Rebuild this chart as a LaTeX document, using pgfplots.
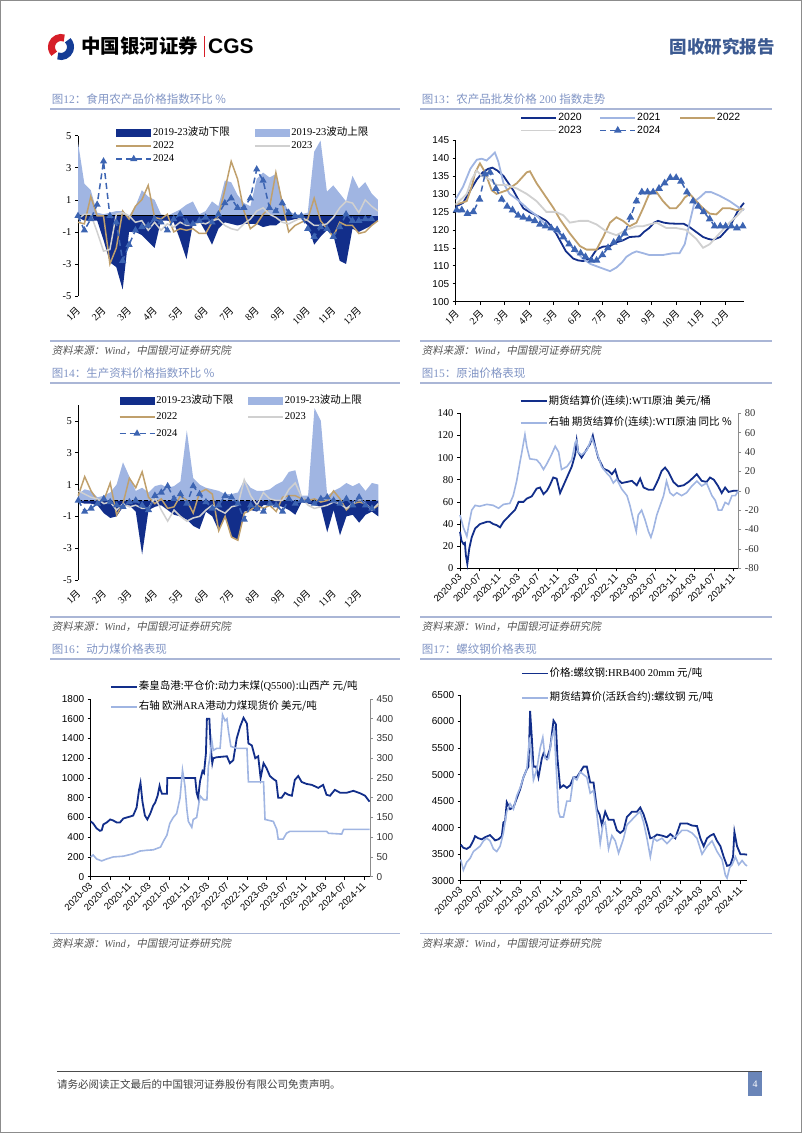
\documentclass[border=0pt]{standalone}
\usepackage{fontspec}
\usepackage{pgfplots}
\pgfplotsset{compat=1.18}
\setmainfont{Noto Sans CJK SC}
\newfontfamily\lsans{Liberation Sans}
\newfontfamily\lserif{Liberation Serif}
\newfontfamily\cjkit[FakeSlant=0.2]{Noto Sans CJK SC}

\definecolor{navy}{RGB}{18,46,138}
\definecolor{lblue}{RGB}{160,181,226}
\definecolor{tan}{RGB}{192,160,108}
\definecolor{lgrey}{RGB}{208,208,208}
\definecolor{mblue}{RGB}{60,100,178}
\definecolor{ttl}{RGB}{128,148,196}
\definecolor{rulec}{RGB}{170,182,214}
\definecolor{hdr}{RGB}{60,90,145}
\definecolor{pagebox}{RGB}{106,133,184}
\definecolor{logored}{RGB}{214,30,40}
\definecolor{logoblue}{RGB}{20,60,150}
\definecolor{srcc}{RGB}{85,85,85}

\pgfplotsset{
 every axis/.append style={scale only axis, enlargelimits=false, clip=false,
   axis line style={line width=0.7pt, black},
   x axis line style={-}, y axis line style={-},
   tick style={line width=0.6pt, black}, major tick length=3pt, tick align=outside,
   /pgf/number format/assume math mode=true, /pgf/number format/1000 sep={},
   legend cell align=left,
   legend style={draw=none, fill=none, inner sep=0pt, outer sep=0pt, column sep=0pt,
     nodes={inner sep=1pt, text height=8pt, text depth=2.5pt, font=\fontsize{10.5}{12}\selectfont}},
 },
 area35/.style={legend image code/.code={\fill[##1] (0pt,-4pt) rectangle (35pt,4pt);}},
 line35/.style={legend image code/.code={\draw[mark repeat=2,mark phase=2,##1] plot coordinates {(0pt,0pt) (17.5pt,0pt) (35pt,0pt)};}},
 line26/.style={legend image code/.code={\draw[##1] (0pt,0pt) -- (26pt,0pt);}},
 monthticks/.style={xtick={0,4,...,44}, xticklabels={{\lserif 1}月,{\lserif 2}月,{\lserif 3}月,{\lserif 4}月,{\lserif 5}月,{\lserif 6}月,{\lserif 7}月,{\lserif 8}月,{\lserif 9}月,{\lserif 10}月,{\lserif 11}月,{\lserif 12}月}},
 dateticks/.style={xtick={0,4,...,56}, xticklabels={2020-03,2020-07,2020-11,2021-03,2021-07,2021-11,2022-03,2022-07,2022-11,2023-03,2023-07,2023-11,2024-03,2024-07,2024-11},
   xticklabel style={font=\lsans\fontsize{9.5}{11}\selectfont, xshift=2.5pt, yshift=-2pt, rotate=45, anchor=east}},
}

\begin{document}
\begin{tikzpicture}
\useasboundingbox (0,0) rectangle (802pt,-1133pt);
\draw[black!45, line width=1pt] (0.5pt,-0.5pt) rectangle (801.5pt,-1132.5pt);

% ---------- header ----------
\draw[logored, line width=7pt] (61pt,-47pt) ++(70:9.5pt) arc (70:225:9.5pt);
\draw[logoblue, line width=7pt] (61pt,-47pt) ++(250:9.5pt) arc (250:405:9.5pt);
\node[anchor=west, inner sep=0pt, font=\bfseries\fontsize{19.5}{22}\selectfont] at (81pt,-46pt) {中国银河证券};
\fill[logored] (203.5pt,-36pt) rectangle (205pt,-57pt);
\node[anchor=west, inner sep=0pt, font=\lsans\bfseries\fontsize{21}{24}\selectfont] at (208pt,-46.5pt) {CGS};
\node[anchor=east, inner sep=0pt, text=hdr, font=\bfseries\fontsize{17.5}{20}\selectfont] at (775pt,-47pt) {固收研究报告};

% ---------- titles, rules, sources ----------
\foreach \xa/\xb/\xt in {50/400/51.7, 420/772/421.7}{
  \draw[rulec, line width=1.6pt] (\xa pt,-109pt) -- (\xb pt,-109pt);
  \draw[rulec, line width=1.6pt] (\xa pt,-341pt) -- (\xb pt,-341pt);
  \draw[rulec, line width=1.6pt] (\xa pt,-383pt) -- (\xb pt,-383pt);
  \draw[rulec, line width=1.6pt] (\xa pt,-616.7pt) -- (\xb pt,-616.7pt);
  \draw[rulec, line width=1.6pt] (\xa pt,-659pt) -- (\xb pt,-659pt);
  \draw[rulec, line width=1.6pt] (\xa pt,-933.3pt) -- (\xb pt,-933.3pt);
  \node[anchor=west, inner sep=0pt, text=srcc, font=\cjkit\fontsize{10.5}{12}\selectfont] at (\xt pt,-351pt) {资料来源：{\lserif\itshape Wind}，中国银河证券研究院};
  \node[anchor=west, inner sep=0pt, text=srcc, font=\cjkit\fontsize{10.5}{12}\selectfont] at (\xt pt,-626.7pt) {资料来源：{\lserif\itshape Wind}，中国银河证券研究院};
  \node[anchor=west, inner sep=0pt, text=srcc, font=\cjkit\fontsize{10.5}{12}\selectfont] at (\xt pt,-944pt) {资料来源：{\lserif\itshape Wind}，中国银河证券研究院};
}
\begin{scope}[every node/.style={anchor=west, inner sep=0pt, text=ttl, font=\fontsize{11.5}{13}\selectfont}]
\node at (51.7pt,-99pt) {图{\lserif 12}：食用农产品价格指数环比 \%};
\node at (421.7pt,-99pt) {图{\lserif 13}：农产品批发价格 {\lserif 200} 指数走势};
\node at (51.7pt,-372.7pt) {图{\lserif 14}：生产资料价格指数环比 \%};
\node at (421.7pt,-372.7pt) {图{\lserif 15}：原油价格表现};
\node at (51.7pt,-649.3pt) {图{\lserif 16}：动力煤价格表现};
\node at (421.7pt,-649.3pt) {图{\lserif 17}：螺纹钢价格表现};
\end{scope}

% ---------- footer ----------
\draw[black!70, line width=1pt] (57pt,-1071pt) -- (762pt,-1071pt);
\node[anchor=west, inner sep=0pt, text=black!75, font=\fontsize{10.5}{12}\selectfont] at (57pt,-1084pt) {请务必阅读正文最后的中国银河证券股份有限公司免责声明。};
\fill[pagebox] (748pt,-1072pt) rectangle (762pt,-1096pt);
\node[text=white, inner sep=0pt, font=\lserif\fontsize{10}{12}\selectfont] at (755pt,-1084pt) {4};

% =================== Chart 12 ===================
\begin{axis}[at={(78pt,-296pt)}, anchor=south west, width=300pt, height=160.3pt,
  xmin=0, xmax=47, ymin=-5, ymax=5,
  axis y line*=left, axis x line*=bottom, x axis line style={draw=none},
  monthticks, xtick style={draw=none},
  ytick={-5,-3,...,5},
  yticklabel style={font=\lserif\fontsize{10.5}{12}\selectfont},
  xticklabel style={font=\fontsize{10}{12}\selectfont, xshift=3pt, yshift=-7pt, rotate=45, anchor=east},
  legend columns=2, legend style={at={(0.125,1.056)}, anchor=north west, row sep=0.5pt}]
\addplot[draw=none, fill=navy, area35] coordinates {(0,0) (0,-0.1) (1,-0.3) (2,-0.3) (3,-0.3) (4,-1.5) (5,-2.9) (6,-3.2) (7,-4.6) (8,-1.0) (9,-1.0) (10,-1.2) (11,-1.6) (12,-2.0) (13,-0.3) (14,-0.3) (15,-0.4) (16,-1.5) (17,-2.7) (18,-0.5) (19,-0.3) (20,-1.0) (21,-1.8) (22,-0.8) (23,-0.4) (24,-0.5) (25,-0.6) (26,-0.5) (27,-0.5) (28,-0.5) (29,-0.7) (30,-0.6) (31,-0.6) (32,-0.3) (33,-0.3) (34,-0.2) (35,-0.2) (36,-0.6) (37,-1.8) (38,-1.3) (39,-0.9) (40,-1.2) (41,-2.8) (42,-3.0) (43,-0.8) (44,-1.0) (45,-0.8) (46,-0.6) (47,-0.3) (47,0)};
\addlegendentry{\makebox[100pt][l]{{\lserif 2019-23}波动下限}}
\addplot[draw=none, fill=lblue, area35] coordinates {(0,0) (0,4.6) (1,2.0) (2,1.6) (3,0.2) (4,0.1) (5,0.2) (6,0.3) (7,0.3) (8,0.0) (9,0.6) (10,1.6) (11,1.2) (12,1.0) (13,0.1) (14,0.0) (15,0.2) (16,0.4) (17,0.7) (18,0.9) (19,0.1) (20,0.3) (21,0.9) (22,0.6) (23,2.2) (24,2.1) (25,1.3) (26,0.8) (27,0.6) (28,2.3) (29,2.7) (30,2.4) (31,2.6) (32,1.0) (33,0.3) (34,0.1) (35,0.1) (36,0.2) (37,4.0) (38,4.7) (39,1.5) (40,1.9) (41,1.4) (42,0.9) (43,2.5) (44,1.7) (45,2.1) (46,1.4) (47,1.0) (47,0)};
\addlegendentry{{\lserif 2019-23}波动上限}
\addplot[forget plot, black, line width=0.9pt] coordinates {(0,0) (46,0)};
\addplot[tan, line width=1.5pt, line35] coordinates {(0,-0.4) (1,-0.5) (2,1.2) (3,0.0) (4,0.0) (5,-3.0) (6,-2.0) (7,0.3) (8,-0.2) (9,0.6) (10,1.0) (11,1.9) (12,-0.1) (13,-0.2) (14,0.1) (15,-1.0) (16,-0.8) (17,-0.9) (18,-0.8) (19,-1.1) (20,-1.1) (21,-0.4) (22,0.0) (23,1.6) (24,3.4) (25,2.3) (26,0.3) (27,-0.8) (28,-0.5) (29,0.1) (30,0.5) (31,2.7) (32,0.8) (33,-1.0) (34,-0.6) (35,-0.4) (36,-0.2) (37,1.1) (38,-0.3) (39,-0.8) (40,-1.3) (41,-0.4) (42,-0.6) (43,-0.6) (44,-1.1) (45,-1.0) (46,-0.6) (47,-0.3)};
\addlegendentry{\makebox[100pt][l]{\lserif 2022}}
\addplot[lgrey, line width=1.5pt, line35] coordinates {(0,-0.2) (1,0.1) (2,0.1) (3,-1.0) (4,-2.2) (5,-2.1) (6,0.1) (7,0.2) (8,0.0) (9,-0.4) (10,-0.3) (11,-0.9) (12,-0.4) (13,-0.9) (14,-0.5) (15,-0.7) (16,-0.4) (17,-0.6) (18,-0.6) (19,-0.4) (20,-0.5) (21,-0.3) (22,-0.2) (23,-0.6) (24,-0.8) (25,-0.9) (26,-0.5) (27,-0.2) (28,0.3) (29,0.5) (30,0.1) (31,-0.1) (32,-0.4) (33,-0.5) (34,-0.3) (35,-0.1) (36,-0.3) (37,-0.6) (38,-0.6) (39,-0.5) (40,-0.1) (41,0.5) (42,0.9) (43,0.8) (44,0.2) (45,1.0) (46,0.6) (47,0.3)};
\addlegendentry{\lserif 2023}
\addplot[mblue, line width=1.5pt, dash pattern=on 6pt off 4pt, mark=triangle*, mark size=2.7pt, mark options={solid, fill=mblue}, line35] coordinates {(0,0.0) (1,-0.9) (2,-0.2) (3,0.7) (4,3.4) (5,0.0) (6,-0.4) (7,-2.8) (8,-1.8) (9,-0.9) (10,-0.7) (11,-0.6) (12,-0.2) (13,-0.4) (14,-0.9) (15,-0.2) (16,0.1) (17,-0.4) (18,-0.5) (19,-0.3) (20,-0.1) (21,-0.4) (22,0.1) (23,0.8) (24,1.1) (25,0.5) (26,0.5) (27,1.1) (28,2.9) (29,2.2) (30,0.5) (31,0.3) (32,0.8) (33,0.2) (34,0.0) (35,0.0) (36,-0.8) (37,-1.3) (38,-0.7) (39,-0.8) (40,-1.3) (41,-0.7) (42,0.1) (43,-0.3) (44,-0.3) (45,-0.2) (46,-0.2)};
\addlegendentry{\lserif 2024}
\end{axis}

% =================== Chart 13 ===================
\begin{axis}[at={(455.7pt,-301.7pt)}, anchor=south west, width=288.3pt, height=161.7pt,
  xmin=0, xmax=11.77, ymin=100, ymax=145,
  axis y line*=left, axis x line*=bottom,
  xtick={0,...,11}, xticklabels={{\lserif 1}月,{\lserif 2}月,{\lserif 3}月,{\lserif 4}月,{\lserif 5}月,{\lserif 6}月,{\lserif 7}月,{\lserif 8}月,{\lserif 9}月,{\lserif 10}月,{\lserif 11}月,{\lserif 12}月},
  ytick={100,105,...,145},
  yticklabel style={font=\lsans\fontsize{10}{12}\selectfont},
  xticklabel style={font=\fontsize{10}{12}\selectfont, xshift=4pt, yshift=-5pt, rotate=45, anchor=east},
  legend columns=3, legend style={at={(0.225,1.175)}, anchor=north west, row sep=0pt}]
\addplot[navy, line width=1.8pt, line35] coordinates {(0,126.5) (0.3,127.5) (0.6,131) (0.86,134) (1.1,136) (1.33,137) (1.5,137.3) (1.7,136.5) (1.95,135) (2.15,133) (2.35,131) (2.55,128.5) (2.76,126) (3.0,125) (3.3,124) (3.5,123.3) (3.7,122.5) (3.9,121) (4.1,119) (4.3,116.5) (4.5,114) (4.8,112) (5.0,111.5) (5.2,111.3) (5.5,112) (5.75,114.5) (6.0,115.3) (6.3,115.5) (6.55,116.5) (6.8,117) (7.1,118) (7.5,118.2) (7.7,119.5) (7.9,120.5) (8.1,122) (8.26,122.5) (8.5,122) (8.7,121.8) (9.0,121.7) (9.3,121.7) (9.5,121) (9.7,120) (9.9,119) (10.1,118) (10.3,117.5) (10.5,117.2) (10.8,118) (11.0,119.5) (11.2,121) (11.35,123) (11.5,125) (11.65,126.5) (11.77,127.5)};
\addlegendentry{\makebox[40pt][l]{\lsans 2020}}
\addplot[lblue, line width=1.8pt, line35] coordinates {(0,128.5) (0.3,132) (0.6,137) (0.86,139.5) (1.06,139.8) (1.26,139.3) (1.45,140.5) (1.6,141.5) (1.74,139) (1.95,133) (2.2,130) (2.5,128.5) (2.76,127) (3.0,125.5) (3.3,124) (3.6,122) (3.85,120.5) (4.1,119.5) (4.4,118) (4.65,116) (4.9,114) (5.2,112) (5.5,110.5) (5.9,109.5) (6.3,108.5) (6.56,109.5) (6.8,111) (6.97,112.5) (7.2,113.5) (7.38,114) (7.65,113.5) (7.9,113) (8.2,113) (8.46,113) (8.87,113.5) (9.14,113.5) (9.35,116) (9.55,122) (9.76,128) (9.96,129) (10.2,130.5) (10.43,130.5) (10.77,129.5) (11.18,128) (11.6,126) (11.77,125.5)};
\addlegendentry{\makebox[41pt][l]{\lsans 2021}}
\addplot[tan, line width=1.8pt, line35] coordinates {(0,127) (0.45,128) (0.65,132) (0.8,136) (0.99,138.5) (1.2,136) (1.47,131) (1.67,130) (2.08,131) (2.5,133) (2.9,136) (3.03,136.3) (3.3,133) (3.7,129) (4.0,126) (4.25,123) (4.66,119) (5.07,115.5) (5.34,114.5) (5.75,114.5) (6.02,118) (6.3,122) (6.56,123.5) (6.83,122.5) (7.1,121) (7.38,122) (7.65,126) (7.9,130) (8.2,130.5) (8.46,128) (8.74,126) (9.0,126) (9.2,127.5) (9.35,129) (9.55,130) (9.82,128) (10.1,126) (10.37,124.5) (10.64,124.3) (10.9,126) (11.2,126) (11.45,125.5) (11.77,125.8)};
\addlegendentry{\lsans 2022}
\addplot[lgrey, line width=1.8pt, line35] coordinates {(0,127) (0.45,130) (0.65,134) (0.86,136.5) (1.06,135) (1.4,134) (1.67,132.5) (2.08,132.5) (2.5,131.5) (2.9,130) (3.3,128) (3.7,125) (4.1,125) (4.4,124) (4.66,122) (5.07,122.5) (5.4,122.5) (5.75,121.5) (6.16,119.5) (6.56,118.5) (6.97,120) (7.38,121) (7.65,121) (7.9,121.5) (8.2,122) (8.6,120.5) (9.0,120.5) (9.4,120) (9.82,117.5) (10.1,115) (10.37,116) (10.77,119) (11.18,122) (11.5,124) (11.77,126)};
\addlegendentry{\makebox[40pt][l]{\lsans 2023}}
\addplot[mblue, line width=1.5pt, dash pattern=on 6pt off 4pt, mark=triangle*, mark size=3pt, mark options={solid, fill=mblue}, line35] coordinates {(0.04,125.5) (0.25,125.5) (0.48,124.5) (0.72,125) (0.97,128.5) (1.2,135.5) (1.4,136) (1.64,131.5) (1.88,128.5) (2.1,126.5) (2.32,125.5) (2.55,124) (2.76,123.5) (3.0,123) (3.23,122.5) (3.44,121.5) (3.67,121) (3.9,120.5) (4.14,120) (4.39,118) (4.63,116) (4.86,114.5) (5.1,113.5) (5.3,112.5) (5.54,111.5) (5.75,111.5) (5.99,113) (6.22,115) (6.45,116.5) (6.67,117.5) (6.9,119) (7.13,123.5) (7.38,128) (7.6,130.5) (7.83,130.5) (8.06,130.5) (8.3,131.5) (8.53,133) (8.76,134.5) (9.0,134.5) (9.2,133.5) (9.44,130.5) (9.69,128) (9.9,126.5) (10.12,125) (10.37,123) (10.57,121) (10.8,121) (11.02,121) (11.25,121) (11.48,120.5) (11.72,121)};
\addlegendentry{\lsans 2024}
\end{axis}

% =================== Chart 14 ===================
\begin{axis}[at={(78.3pt,-580pt)}, anchor=south west, width=300pt, height=175pt,
  xmin=0, xmax=47, ymin=-5, ymax=6,
  axis y line*=left, axis x line*=bottom, x axis line style={draw=none},
  monthticks, xtick style={draw=none},
  ytick={-5,-3,...,5},
  yticklabel style={font=\lserif\fontsize{10.5}{12}\selectfont},
  xticklabel style={font=\fontsize{10}{12}\selectfont, xshift=3pt, yshift=-6pt, rotate=45, anchor=east},
  legend columns=2, legend style={at={(0.135,1.061)}, anchor=north west, row sep=4pt}]
\addplot[draw=none, fill=navy, area35] coordinates {(0,0) (0,-0.1) (1,-0.2) (2,-0.2) (3,-0.3) (4,-0.8) (5,-1.1) (6,-1.0) (7,-0.4) (8,-0.3) (9,-0.7) (10,-3.4) (11,-0.6) (12,-0.4) (13,-0.3) (14,-0.6) (15,-0.9) (16,-1.0) (17,-1.2) (18,-1.6) (19,-1.8) (20,-0.7) (21,-1.0) (22,-1.9) (23,-1.0) (24,-2.3) (25,-2.5) (26,-0.7) (27,-0.6) (28,-0.7) (29,-0.3) (30,-0.3) (31,-0.3) (32,-0.4) (33,-0.6) (34,-0.9) (35,-0.1) (36,-0.2) (37,-0.3) (38,-0.4) (39,-2.0) (40,-0.6) (41,-2.2) (42,-1.0) (43,-0.9) (44,-1.4) (45,-0.9) (46,-0.7) (47,-1.0) (47,0)};
\addlegendentry{\makebox[90pt][l]{{\lserif 2019-23}波动下限}}
\addplot[draw=none, fill=lblue, area35] coordinates {(0,0) (0,0.4) (1,0.7) (2,0.6) (3,0.2) (4,0.3) (5,0.5) (6,1.0) (7,2.4) (8,1.5) (9,0.6) (10,0.8) (11,0.5) (12,0.9) (13,1.0) (14,0.8) (15,0.9) (16,1.2) (17,4.4) (18,1.4) (19,1.0) (20,0.8) (21,0.7) (22,0.6) (23,0.4) (24,0.4) (25,0.5) (26,1.3) (27,0.8) (28,0.6) (29,0.6) (30,0.7) (31,1.0) (32,1.2) (33,1.8) (34,1.9) (35,0.3) (36,0.3) (37,5.8) (38,5.0) (39,0.3) (40,0.6) (41,0.8) (42,1.1) (43,0.9) (44,1.1) (45,0.6) (46,1.1) (47,1.0) (47,0)};
\addlegendentry{{\lserif 2019-23}波动上限}
\addplot[forget plot, black, line width=0.9pt, dash pattern=on 4pt off 2pt] coordinates {(0,0) (47,0)};
\addplot[tan, line width=1.5pt, line35] coordinates {(0,0.3) (1,1.5) (2,0.6) (3,0.0) (4,0.0) (5,1.1) (6,-0.9) (7,-0.2) (8,1.4) (9,0.8) (10,1.8) (11,0.2) (12,-0.2) (13,0.1) (14,-0.5) (15,-0.4) (16,0.3) (17,0.0) (18,-0.8) (19,0.5) (20,0.7) (21,0.4) (22,-1.9) (23,-1.0) (24,-2.3) (25,-2.5) (26,-0.8) (27,-0.6) (28,-0.3) (29,-0.5) (30,-0.3) (31,-0.7) (32,0.2) (33,0.3) (34,0.3) (35,0.1) (36,0.0) (37,0.1) (38,-0.1) (39,0.0) (40,0.6) (41,0.1) (42,-0.6) (43,-0.2) (44,-0.1) (45,-0.2) (46,-0.6) (47,-0.3)};
\addlegendentry{\makebox[90pt][l]{\lserif 2022}}
\addplot[lgrey, line width=1.5pt, line35] coordinates {(0,0.6) (1,0.4) (2,0.2) (3,0.1) (4,-0.2) (5,-0.1) (6,-0.6) (7,-0.2) (8,-0.4) (9,-0.3) (10,-0.5) (11,-0.5) (12,0.2) (13,-0.6) (14,-1.3) (15,-0.6) (16,-1.0) (17,-1.3) (18,-1.1) (19,-1.0) (20,-0.6) (21,-0.3) (22,-0.6) (23,-0.8) (24,-0.4) (25,-0.3) (26,1.3) (27,0.3) (28,-0.3) (29,0.5) (30,0.1) (31,0.0) (32,0.0) (33,0.7) (34,1.1) (35,0.2) (36,-0.3) (37,-0.5) (38,-0.4) (39,-0.3) (40,-0.1) (41,-0.2) (42,-0.5) (43,-0.2) (44,0.1) (45,-0.2) (46,-0.6) (47,-0.2)};
\addlegendentry{\lserif 2023}
\addplot[mblue, line width=1.5pt, dash pattern=on 6pt off 4pt, mark=triangle*, mark size=2.7pt, mark options={solid, fill=mblue}, line35] coordinates {(0,0.0) (1,-0.7) (2,-0.5) (3,-0.2) (4,0.1) (5,-0.1) (6,-0.3) (7,-0.4) (8,-0.1) (9,0.0) (10,-0.3) (11,-0.6) (12,0.3) (13,0.5) (14,0.9) (15,0.1) (16,0.4) (17,-0.2) (18,0.9) (19,0.4) (20,-0.1) (21,-0.5) (22,-0.3) (23,0.3) (24,0.2) (25,-0.2) (26,-1.2) (27,-0.3) (28,-0.5) (29,-0.7) (30,-0.2) (31,-0.3) (32,-0.7) (33,0.1) (34,-0.2) (35,0.0) (36,0.0) (37,-0.2) (38,0.1) (39,0.2) (40,0.0) (41,-0.2) (42,0.1) (43,-0.3) (44,0.2) (45,-0.3) (46,-0.5)};
\addlegendentry{\lserif 2024}
\end{axis}

% =================== Chart 15 ===================
\begin{axis}[at={(460pt,-568.3pt)}, anchor=south west, width=278.3pt, height=155pt,
  xmin=0, xmax=57, ymin=0, ymax=140,
  axis y line*=left, axis x line*=bottom, dateticks,
  ytick={0,20,...,140},
  yticklabel style={font=\lserif\fontsize{10.5}{12}\selectfont}]
\addplot[navy, line width=1.8pt] coordinates {(0,33) (0.3,25) (0.7,22) (1.0,23) (1.2,12) (1.5,4) (1.9,18) (2.4,28) (3.1,36) (4.1,40) (5.5,42) (6.1,42) (6.8,40) (7.5,39) (8.2,37) (8.9,42) (10.2,48) (11.3,53) (12,60) (13,60) (13.7,63) (14.7,65) (15.7,72) (16.4,73) (17.1,67) (17.8,70) (18.4,75) (19.1,82) (19.8,81) (20.5,68) (21.2,75) (22.2,85) (22.9,92) (23.6,103) (23.9,115) (24.2,105) (24.9,100) (25.6,105) (26.6,112) (27.2,120) (27.7,110) (28.3,100) (29.4,90) (30.4,88) (31.1,85) (31.8,89) (32.4,80) (33.1,77) (34.2,78) (35.2,79) (36.2,75) (36.9,81) (37.6,73) (38.6,71) (39.6,71) (40.6,80) (41.3,88) (42,91) (42.7,87) (43.7,78) (44.7,74) (45.8,75) (46.8,78) (47.8,82) (48.5,85) (49.5,79) (50.5,78) (51.2,82) (52,80) (52.9,74) (53.6,68) (54.3,73) (55,69) (56,70) (57,70)};
\end{axis}
\begin{axis}[at={(460pt,-568.3pt)}, anchor=south west, width=278.3pt, height=155pt,
  xmin=0, xmax=57, ymin=-80, ymax=80,
  axis y line*=right, axis x line=none, y axis line style={black!45}, ytick style={black!45},
  ytick={-80,-60,...,80},
  yticklabel style={font=\lserif\fontsize{10.5}{12}\selectfont, text=black!80},
  legend style={at={(0.215,1.118)}, anchor=north west, row sep=9pt}]
\addlegendimage{navy, line width=1.8pt, line26}
\addlegendentry{期货结算价(连续):{\lserif WTI}原油 美元/桶}
\addplot[lblue, line width=1.6pt, line26] coordinates {(0,-25) (0.7,-38) (1.4,-47) (1.8,-35) (2.4,-20) (3.1,-15) (4.0,-16) (5.5,-14) (6.8,-15) (7.9,-18) (8.9,-14) (10.2,-13) (10.9,-5) (11.6,10) (12.3,30) (12.6,38) (13.3,58) (13.7,45) (14.3,33) (15.7,32) (16.4,28) (17.1,22) (17.8,28) (18.8,38) (19.5,46) (20.2,40) (20.8,22) (21.9,25) (22.9,32) (23.6,50) (23.9,52) (24.2,40) (24.9,37) (26,42) (27,55) (28,40) (29,25) (30.1,18) (30.7,15) (31.4,8) (32.1,12) (33.1,2) (34.2,-5) (34.8,-15) (35.5,-30) (36.1,-42) (36.5,-25) (37.2,-20) (37.9,-30) (38.6,-42) (39.1,-48) (39.6,-40) (40.3,-25) (41,-15) (41.7,-5) (42.3,10) (43,-2) (43.7,-5) (44.4,-2) (45.4,-5) (46.4,-2) (47.5,5) (48.5,10) (49.5,5) (50.5,8) (51.6,-5) (52.3,-10) (52.9,-20) (53.6,-20) (54.3,-12) (55,-14) (55.7,-5) (56.4,-5) (57,0)};
\addlegendentry{右轴 期货结算价(连续):{\lserif WTI}原油 同比 \%}
\end{axis}

% =================== Chart 16 ===================
\begin{axis}[at={(90.7pt,-876.7pt)}, anchor=south west, width=279.3pt, height=177.7pt,
  xmin=0, xmax=57.2, ymin=0, ymax=1800,
  axis y line*=left, axis x line*=bottom, dateticks,
  ytick={0,200,...,1800},
  yticklabel style={font=\lsans\fontsize{10}{12}\selectfont}]
\addplot[navy, line width=1.8pt] coordinates {(0,560) (0.5,540) (1.2,490) (1.9,465) (2.25,470) (2.6,530) (3.3,550) (4.0,580) (4.6,570) (5.3,550) (6.0,550) (6.7,590) (7.4,600) (8.1,610) (8.7,620) (9.4,700) (9.9,880) (10.2,950) (10.6,760) (11.1,620) (11.6,580) (12.2,640) (12.8,720) (13.2,750) (13.7,820) (14.1,920) (14.3,880) (14.6,840) (15.6,840) (15.7,1000) (16.9,1000) (19.7,1000) (21.4,1000) (21.7,850) (22.0,800) (22.4,970) (22.9,1070) (23.2,1050) (23.6,1250) (23.8,1600) (24.3,1600) (24.6,1300) (24.9,1150) (25.1,1200) (25.8,1210) (27.9,1220) (28.5,1150) (29.2,1180) (29.9,1400) (30.6,1520) (31.3,1610) (32.0,1550) (32.3,1350) (33.0,1330) (33.7,1200) (34.3,1220) (34.8,1000) (35.4,1150) (36.0,1100) (36.7,1020) (37.4,990) (38.0,970) (38.4,800) (39.1,800) (39.8,850) (40.5,830) (41.2,820) (41.8,980) (42.5,1020) (43.2,960) (44.2,940) (45.3,930) (46.6,900) (47.6,930) (48.3,830) (49.0,820) (50.0,880) (51.1,850) (52.4,850) (53.8,870) (55.2,845) (56.2,820) (57.1,760)};
\end{axis}
\begin{axis}[at={(90.7pt,-876.7pt)}, anchor=south west, width=279.3pt, height=177.7pt,
  xmin=0, xmax=57.2, ymin=0, ymax=450,
  axis y line*=right, axis x line=none, y axis line style={black!45}, ytick style={black!45},
  ytick={0,50,...,450},
  yticklabel style={font=\lsans\fontsize{10}{12}\selectfont, text=black!80},
  legend style={at={(0.069,1.103)}, anchor=north west, row sep=7.5pt}]
\addlegendimage{navy, line width=1.8pt, line26}
\addlegendentry{秦皇岛港:平仓价:动力末煤({\lserif Q5500}):山西产 元/吨}
\addplot[lblue, line width=1.6pt, line26] coordinates {(0,50) (0.5,55) (1.2,45) (2.25,40) (3.3,45) (4.6,50) (6.7,52) (8.7,58) (10.1,65) (11.5,67) (12.8,68) (14.3,75) (14.9,90) (15.6,105) (16.2,135) (16.9,150) (17.6,160) (18.3,200) (18.8,270) (19.3,230) (19.7,170) (20.0,140) (20.7,125) (21.0,145) (21.7,150) (22.4,205) (23.1,195) (23.8,195) (24.1,280) (24.4,300) (24.8,345) (25.1,320) (25.8,325) (26.5,325) (27.0,410) (27.5,395) (27.9,400) (28.2,370) (28.7,330) (29.9,325) (32.0,325) (32.3,240) (35.4,240) (35.7,145) (37.4,140) (38.1,120) (38.4,95) (39.4,95) (40.1,110) (40.8,115) (44.2,115) (48.3,115) (48.7,110) (51.4,108) (51.8,120) (57.1,120)};
\addlegendentry{右轴 欧洲{\lserif ARA}港动力煤现货价 美元/吨}
\end{axis}

% =================== Chart 17 ===================
\begin{axis}[at={(460.7pt,-880.7pt)}, anchor=south west, width=286.5pt, height=185.7pt,
  xmin=0, xmax=57.3, ymin=3000, ymax=6500,
  axis y line*=left, axis x line*=bottom, dateticks,
  ytick={3000,3500,...,6500},
  yticklabel style={font=\lsans\fontsize{10}{12}\selectfont},
  legend style={at={(0.210,1.149)}, anchor=north west, row sep=12pt}]
\addlegendimage{navy, line width=1.8pt, line26}
\addlegendentry{价格:螺纹钢:{\lserif HRB400 20mm} 元/吨}
\addlegendimage{lblue, line width=1.6pt, line26}
\addlegendentry{期货结算价(活跃合约):螺纹钢 元/吨}
\addplot[navy, line width=1.8pt, forget plot] coordinates {(0,3680) (0.53,3620) (1.2,3600) (1.87,3640) (2.54,3760) (2.87,3840) (3.54,3800) (4.21,3780) (4.87,3820) (5.87,3860) (6.88,3760) (7.54,3780) (8.21,3840) (8.54,4100) (8.88,4120) (9.21,4480) (9.88,4350) (10.55,4380) (11.21,4550) (11.88,4720) (12.55,4950) (13.22,5100) (13.55,5150) (13.88,6200) (14.22,5700) (14.55,5150) (15.09,5150) (15.55,4950) (16.22,5300) (16.56,5400) (17.22,5300) (17.89,5500) (18.56,6020) (19.03,5950) (19.36,5300) (19.89,4750) (20.56,4800) (21.23,4750) (21.9,4800) (22.56,4950) (23.23,4950) (23.9,5050) (24.57,5150) (25.23,5150) (25.9,4850) (26.57,4850) (27.24,4350) (27.77,4250) (28.24,4050) (28.9,4300) (29.57,4150) (30.57,4150) (31.24,3950) (31.91,3900) (32.58,3950) (33.24,4200) (34.25,4300) (35.25,4300) (35.91,4380) (36.58,4250) (37.25,4050) (37.92,3800) (38.58,3820) (39.25,3870) (40.25,3850) (41.26,3820) (41.92,3880) (42.92,3800) (43.93,4080) (45.26,4080) (46.26,4040) (47.26,4030) (47.93,3800) (48.6,3650) (49.27,3800) (49.93,3850) (50.6,3880) (51.27,3750) (51.94,3650) (52.6,3450) (53.27,3280) (53.94,3300) (54.47,3450) (54.74,3920) (55.27,3650) (55.94,3500) (56.6,3500) (57.28,3490)};
\addplot[lblue, line width=1.6pt, forget plot] coordinates {(0,3400) (0.53,3200) (1.2,3350) (1.87,3420) (2.54,3550) (3.2,3600) (3.87,3650) (4.54,3750) (5.21,3800) (5.87,3750) (6.54,3600) (7.21,3550) (7.88,3650) (8.54,3900) (9.21,4300) (9.88,4450) (10.55,4350) (11.21,4600) (11.88,4750) (12.55,4950) (13.22,5100) (13.75,5700) (14.09,5400) (14.55,4900) (15.22,5100) (15.89,5500) (16.42,5700) (16.89,5300) (17.56,5300) (18.22,5700) (18.69,5850) (19.23,4900) (19.56,4300) (19.89,4200) (20.56,4200) (21.23,4500) (21.9,4500) (22.56,4950) (23.23,4900) (23.9,5050) (24.57,5000) (25.23,4950) (25.9,4650) (26.57,4700) (27.24,4250) (27.9,3700) (28.44,4050) (28.9,4100) (29.57,3600) (30.24,3850) (30.91,3750) (31.58,3520) (32.58,3800) (33.24,4050) (34.25,4150) (35.25,4250) (35.92,4300) (36.58,4100) (37.25,3800) (37.92,3450) (38.58,3800) (39.25,3750) (40.25,3800) (41.25,3700) (42.26,3800) (43.26,3850) (44.26,3950) (45.26,3950) (46.26,3900) (47.26,3800) (48.26,3500) (49.27,3650) (50.27,3750) (51.27,3550) (52.27,3400) (52.94,3100) (53.27,3050) (53.8,3250) (54.27,3300) (54.94,3450) (55.61,3300) (56.28,3380) (56.94,3300) (57.28,3280)};
\end{axis}
\end{tikzpicture}
\end{document}
